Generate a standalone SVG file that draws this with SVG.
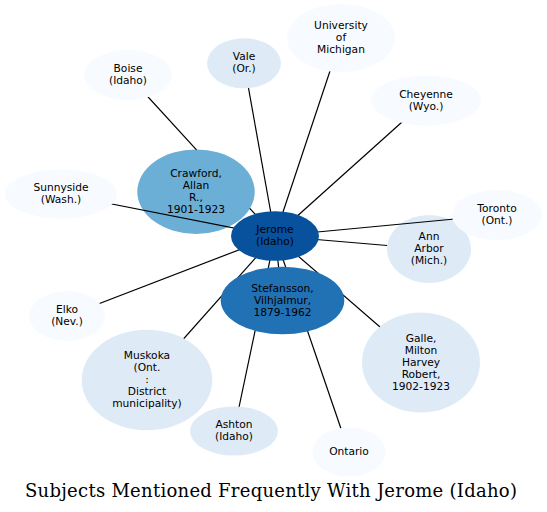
<svg xmlns="http://www.w3.org/2000/svg" width="547" height="512" viewBox="0 0 547 512">
<style>
.n text{font-family:"DejaVu Sans","Liberation Sans",sans-serif;font-size:10.67px;fill:#000;text-anchor:middle}
.e{stroke:#000;stroke-width:1.2;fill:none}
.c0{fill:#f7fbff}.c1{fill:#deebf7}.c2{fill:#6baed6}.c3{fill:#2171b5}.c4{fill:#08519c}
.title{font-family:"DejaVu Serif","Liberation Serif",serif;font-size:18px;fill:#000;text-anchor:middle}
</style>
<rect width="547" height="512" fill="#fff"/>
<g id="crawford" class="n"><ellipse class="c2" cx="196" cy="191.7" rx="58.7" ry="42.3"/><text x="196" y="176.7">Crawford,</text><text x="196" y="188.7">Allan</text><text x="196" y="200.7">R.,</text><text x="196" y="212.7">1901-1923</text></g>
<g id="annarbor" class="n"><ellipse class="c1" cx="429" cy="249" rx="42" ry="34"/><text x="429" y="240">Ann</text><text x="429" y="252">Arbor</text><text x="429" y="264">(Mich.)</text></g>
<g id="edges">
<path class="e" d="M128,75 L196.5,149.8 M249.7,208.3 L275,236"/>
<line class="e" x1="244" y1="63" x2="275" y2="236"/>
<line class="e" x1="341" y1="38" x2="275" y2="236"/>
<line class="e" x1="426" y1="100.5" x2="275" y2="236"/>
<line class="e" x1="61" y1="194" x2="275" y2="236"/>
<line class="e" x1="497" y1="215" x2="275" y2="236"/>
<line class="e" x1="387.2" y1="245.5" x2="275" y2="236"/>
<line class="e" x1="67" y1="316" x2="275" y2="236"/>
<line class="e" x1="147" y1="380" x2="275" y2="236"/>
<line class="e" x1="234" y1="431" x2="275" y2="236"/>
<line class="e" x1="349" y1="452" x2="275" y2="236"/>
<line class="e" x1="421" y1="362.5" x2="275" y2="236"/>
<line class="e" x1="282.5" y1="300.5" x2="275" y2="236"/>
</g>
<g id="jerome" class="n"><ellipse class="c4" cx="275" cy="236" rx="44" ry="24.8"/><text x="275" y="233">Jerome</text><text x="275" y="245">(Idaho)</text></g>
<g id="stefansson" class="n"><ellipse class="c3" cx="282.5" cy="300.5" rx="61.8" ry="33.8"/><text x="282.5" y="291.5">Stefansson,</text><text x="282.5" y="303.5">Vilhjalmur,</text><text x="282.5" y="315.5">1879-1962</text></g>
<g id="boise" class="n"><ellipse class="c0" cx="128" cy="75" rx="44" ry="25"/><text x="128" y="72">Boise</text><text x="128" y="84">(Idaho)</text></g>
<g id="vale" class="n"><ellipse class="c1" cx="244" cy="63.3" rx="37" ry="25"/><text x="244" y="60.3">Vale</text><text x="244" y="72.3">(Or.)</text></g>
<g id="umich" class="n"><ellipse class="c0" cx="341" cy="38" rx="54" ry="34"/><text x="341" y="29">University</text><text x="341" y="41">of</text><text x="341" y="53">Michigan</text></g>
<g id="cheyenne" class="n"><ellipse class="c0" cx="426" cy="100.5" rx="55" ry="25"/><text x="426" y="97.5">Cheyenne</text><text x="426" y="109.5">(Wyo.)</text></g>
<g id="sunnyside" class="n"><ellipse class="c0" cx="61" cy="194" rx="56" ry="24.5"/><text x="61" y="191">Sunnyside</text><text x="61" y="203">(Wash.)</text></g>
<g id="toronto" class="n"><ellipse class="c0" cx="497" cy="215" rx="45" ry="25"/><text x="497" y="212">Toronto</text><text x="497" y="224">(Ont.)</text></g>
<g id="elko" class="n"><ellipse class="c0" cx="67" cy="316" rx="38" ry="25"/><text x="67" y="313">Elko</text><text x="67" y="325">(Nev.)</text></g>
<g id="muskoka" class="n"><ellipse class="c1" cx="147" cy="380" rx="65.3" ry="50.3"/><text x="147" y="359">Muskoka</text><text x="147" y="371">(Ont.</text><text x="147" y="383">:</text><text x="147" y="395">District</text><text x="147" y="407">municipality)</text></g>
<g id="ashton" class="n"><ellipse class="c1" cx="234" cy="431" rx="44" ry="24.5"/><text x="234" y="428">Ashton</text><text x="234" y="440">(Idaho)</text></g>
<g id="ontario" class="n"><ellipse class="c0" cx="349" cy="452" rx="36.5" ry="24.5"/><text x="349" y="455">Ontario</text></g>
<g id="galle" class="n"><ellipse class="c1" cx="421" cy="362.5" rx="59" ry="50"/><text x="421" y="341.5">Galle,</text><text x="421" y="353.5">Milton</text><text x="421" y="365.5">Harvey</text><text x="421" y="377.5">Robert,</text><text x="421" y="389.5">1902-1923</text></g>
<text class="title" x="271" y="496.5" textLength="492">Subjects Mentioned Frequently With Jerome (Idaho)</text>
</svg>
